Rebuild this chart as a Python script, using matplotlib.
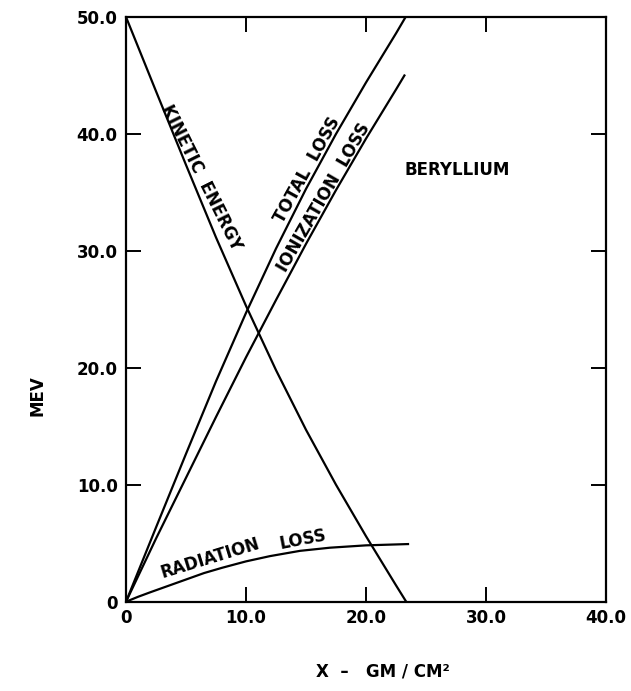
import matplotlib
matplotlib.use('Agg')
import matplotlib.pyplot as plt

# values (x in gm/cm^2, y in MeV)
x_total = [0, 2.5, 5, 7.5, 10, 12.5, 15, 17.5, 20, 22.5, 23.3]
total_loss = [0, 6.35, 12.65, 18.85, 24.7, 30.2, 35.3, 40.0, 44.4, 48.6, 50.0]

x_ion = [0, 2.5, 5, 7.5, 10, 12.5, 15, 17.5, 20, 22.5, 23.2]
ionization_loss = [0, 5.4, 10.6, 15.8, 20.9, 25.8, 30.6, 35.2, 39.6, 43.8, 45.0]

x_ke = [0, 2.5, 5, 7.5, 10, 12.5, 15, 17.5, 20, 22.5, 23.35]
kinetic_energy = [50, 43.65, 37.35, 31.15, 25.3, 19.8, 14.7, 10.0, 5.6, 1.4, 0]

x_rad = [0, 1, 2, 3.5, 5, 6.5, 8, 10, 12, 14.5, 17, 20, 23.5]
radiation_loss = [0, 0.42, 0.8, 1.35, 1.9, 2.45, 2.9, 3.45, 3.9, 4.35, 4.62, 4.82, 4.93]

x_ticks = [0, 10, 20, 30, 40]
x_labels = ['0', '10.0', '20.0', '30.0', '40.0']
y_ticks = [0, 10, 20, 30, 40, 50]
y_labels = ['0', '10.0', '20.0', '30.0', '40.0', '50.0']

plt.rcParams['font.family'] = ['DejaVu Sans']
plt.rcParams['font.weight'] = 'bold'

fig = plt.figure(figsize=(6.31, 6.91), dpi=100)
ax = fig.add_axes([0.1997, 0.1292, 0.7607, 0.8462])

lw = 1.6
ax.plot(x_total, total_loss, color='black', lw=lw)
ax.plot(x_ion, ionization_loss, color='black', lw=lw)
ax.plot(x_ke, kinetic_energy, color='black', lw=lw)
ax.plot(x_rad, radiation_loss, color='black', lw=lw)

ax.set_xlim(0, 40)
ax.set_ylim(0, 50)
ax.set_xticks(x_ticks)
ax.set_xticklabels(x_labels)
ax.set_yticks(y_ticks)
ax.set_yticklabels(y_labels)
ax.tick_params(direction='in', top=True, right=True, length=11, width=1.4,
               labelsize=12, pad=6)
ax.tick_params(axis='x', pad=5)
for sp in ax.spines.values():
    sp.set_linewidth(1.6)

# curve labels
lab = dict(fontsize=12, fontweight='bold', ha='center', va='center',
           rotation_mode='anchor')
ax.text(6.3, 36.3, 'KINETIC  ENERGY', rotation=-63.5, **lab)
ax.text(15.1, 36.9, 'TOTAL  LOSS', rotation=61, **lab)
ax.text(16.5, 34.6, 'IONIZATION  LOSS', rotation=60, **lab)
ax.text(7.0, 3.7, 'RADIATION', rotation=17, **lab)
ax.text(14.7, 5.35, 'LOSS', rotation=11, **lab)
ax.text(27.6, 36.9, 'BERYLLIUM', **lab)

fig.text(0.06, 0.428, 'MEV', rotation=90, fontsize=12, fontweight='bold',
         ha='center', va='center')
fig.text(0.607, 0.028, 'X  \u2013   GM / CM\u00b2', fontsize=12, fontweight='bold',
         ha='center', va='center')

fig.savefig('out.png', dpi=100)
